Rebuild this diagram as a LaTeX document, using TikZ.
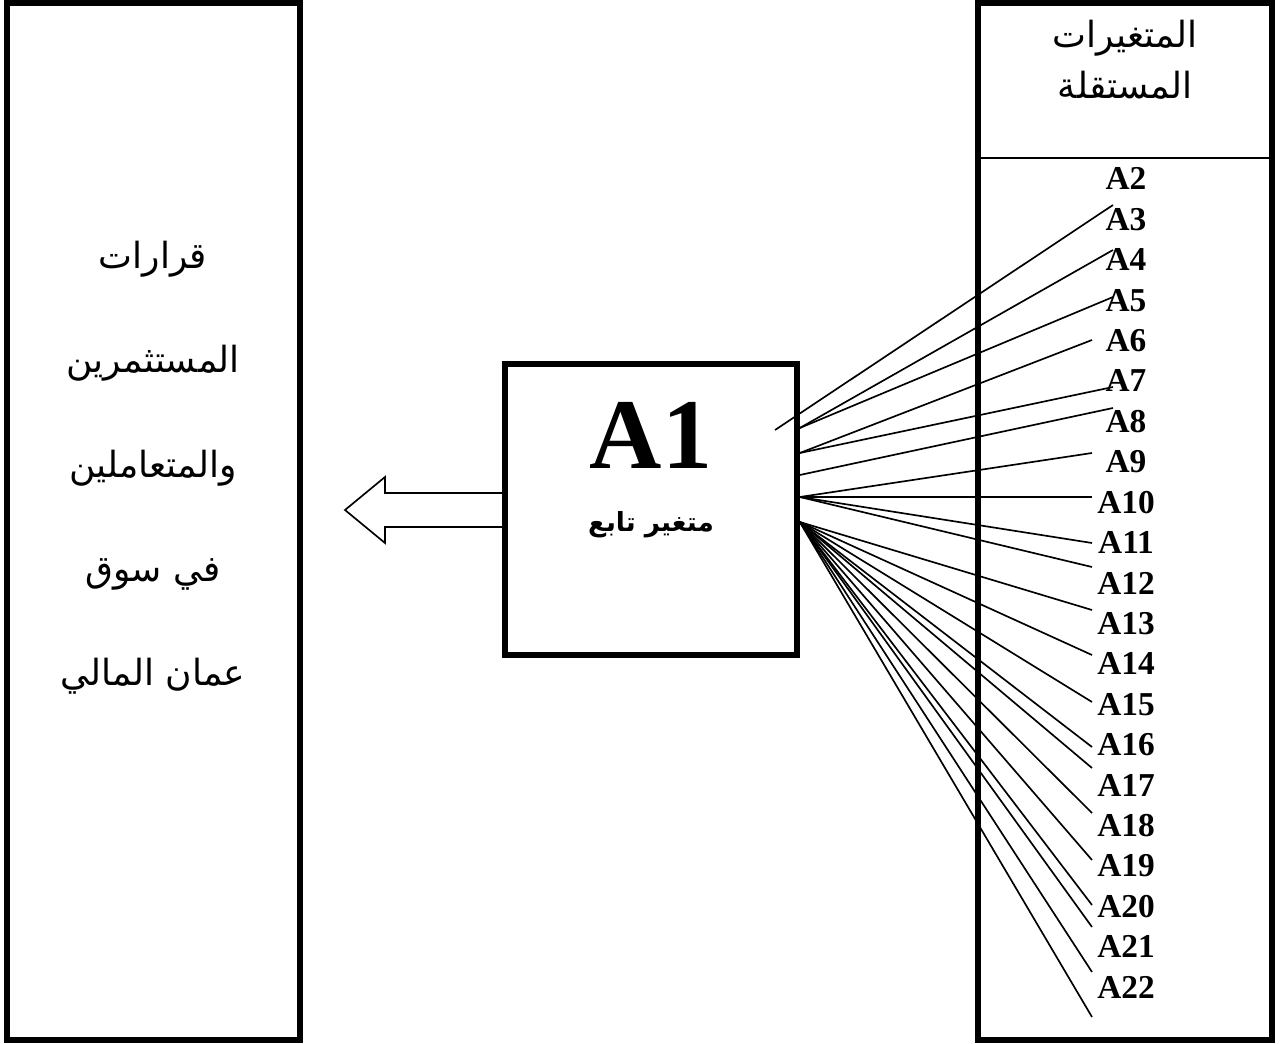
\documentclass[tikz,border=0pt]{standalone}
\usepackage{fontspec}
\setmainfont{Liberation Serif}
\newfontfamily\arabicfont[Script=Arabic]{DejaVu Sans}
\TeXXeTstate=1
\begin{document}
\begin{tikzpicture}[x=0.02cm,y=-0.02cm,
		frame/.style={line width=3.2pt},
		spoke/.style={line width=0.95pt},
		artext/.style={font=\arabicfont\fontsize{20.5}{24}\selectfont, anchor=base},
		varlbl/.style={font=\fontsize{19}{21}\selectfont\bfseries, anchor=base}]
		\useasboundingbox (0,0) rectangle (1282,1044);
		
		\draw[frame] (7,3) rectangle (300,1040) node[midway] (decisions) {};
		\draw[frame] (978,3) rectangle (1272,1040) node[midway] (indep) {};
		\draw[line width=0.95pt] (978,158) coordinate (div-l) -- (1272,158) coordinate (div-r);
		
		\node[draw, frame, minimum width=5.84cm, minimum height=5.82cm, inner sep=0pt] (a1) at (651,509.5) {};
		\node[anchor=base, font=\fontsize{57}{60}\selectfont\bfseries] (a1-name) at (651,468) {A1};
		\node[anchor=base, font=\arabicfont\fontsize{15}{17}\selectfont\bfseries] (a1-kind) at (651,531) {\beginR متغير تابع\endR};
		
		% left box text
		\foreach \txt [count=\i] in {قرارات, المستثمرين, والمتعاملين, في سوق, عمان المالي}
			\node[artext] (dec\i) at (153,{269+104*(\i-1)}) {\beginR \txt\endR};
		
		% header of the right box
		\node[artext] (head1) at (1125,48) {\beginR المتغيرات\endR};
		\node[artext] (head2) at (1125,99) {\beginR المستقلة\endR};
		
		\foreach \k in {2,...,22}
			\node[varlbl] (A\k) at (1126,{190+40.4*(\k-2)}) {A\k};
		
		% output arrow
		\draw[spoke] (a1.west |- 0,493) -- (385,493) -- (385,477) -- (345,510) -- (385,543) -- (385,527) -- (a1.west |- 0,527);
		
		% spokes
		\coordinate (s0) at (775,430);
		\coordinate (s1) at (a1.east |- 0,428);
		\coordinate (s2) at (a1.east |- 0,453);
		\coordinate (s3) at (a1.east |- 0,475);
		\coordinate (s4) at (a1.east |- 0,497);
		\coordinate (s5) at (a1.east |- 0,522);
		\foreach \s/\x/\y [count=\k from 3] in {s0/1113/205, s1/1113/250, s1/1113/297, s2/1092/340,
				s2/1113/387, s3/1113/408, s4/1092/453, s4/1092/497, s4/1092/543, s4/1092/567,
				s5/1092/610, s5/1092/655, s5/1092/702, s5/1092/747, s5/1092/768, s5/1092/813,
				s5/1092/860, s5/1092/905, s5/1092/927, s5/1092/972, s5/1092/1017} {
			\coordinate (e\k) at (\x,\y);
			\draw[spoke] (\s) -- (e\k);
		}
	\end{tikzpicture}
\end{document}
